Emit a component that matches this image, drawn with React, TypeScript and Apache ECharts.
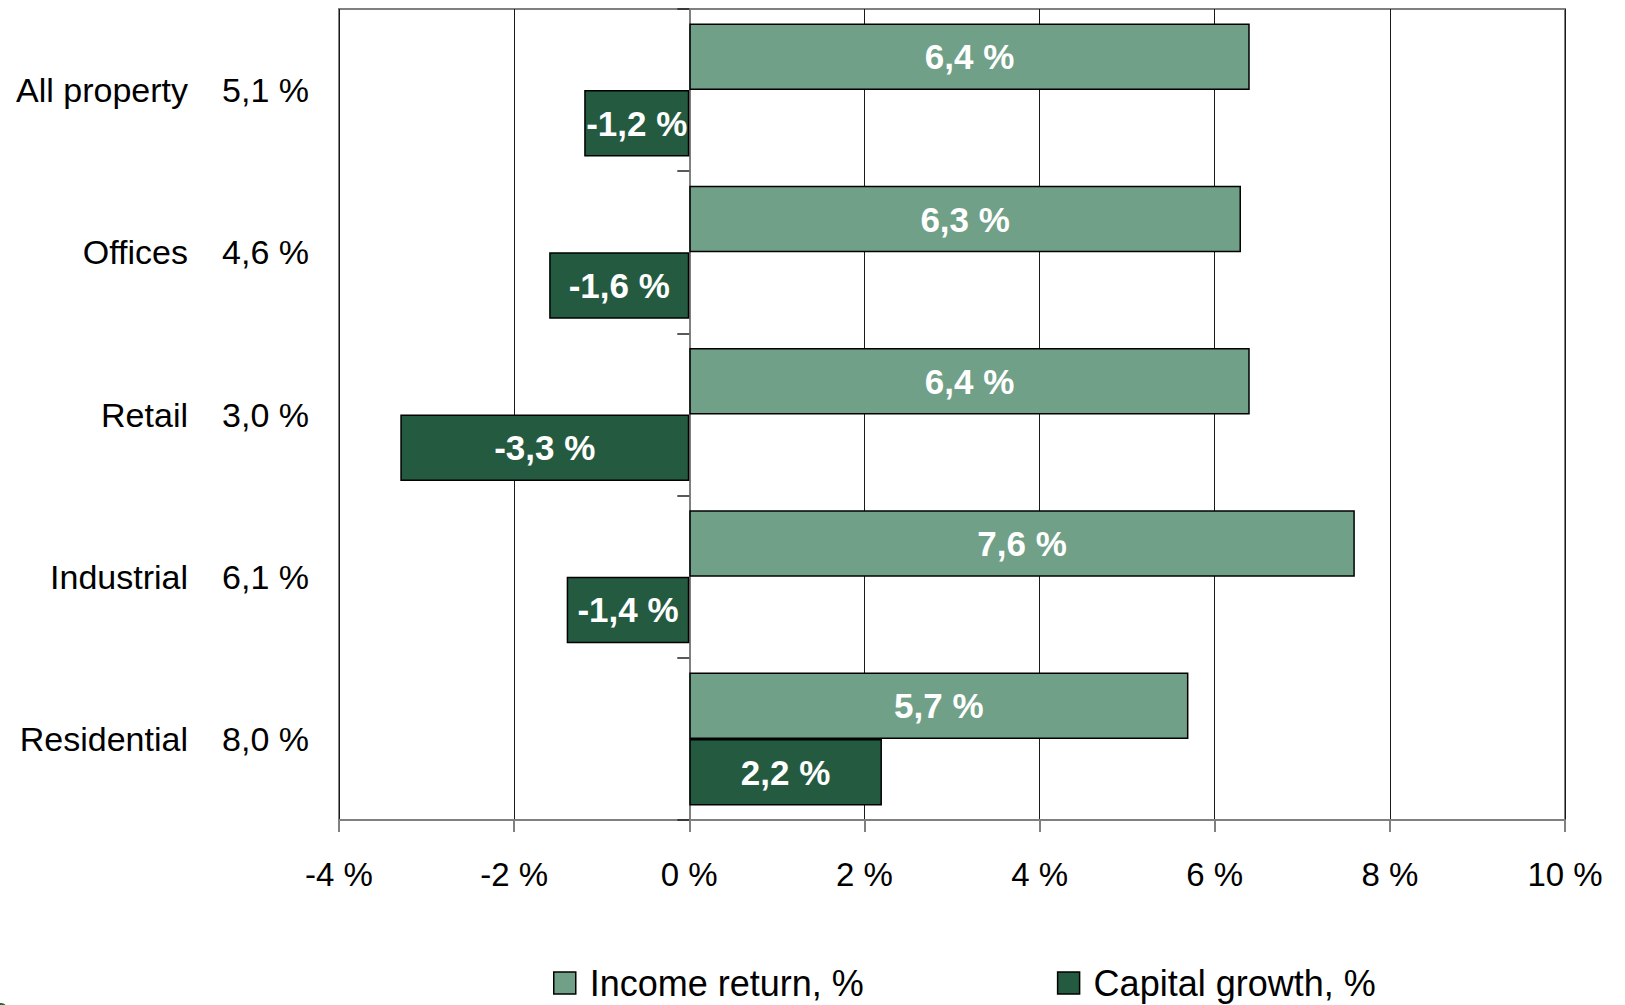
import React, { useEffect, useRef } from "react";
import * as echarts from "echarts";

const categories = ["All property", "Offices", "Retail", "Industrial", "Residential"];
const totalReturn = [5.1, 4.6, 3.0, 6.1, 8.0];
const incomeReturn = [6.4, 6.3, 6.4, 7.6, 5.7];
const capitalGrowth = [-1.2, -1.6, -3.3, -1.4, 2.2];
const seriesNames = ["Income return, %", "Capital growth, %"];
const xTicks = { min: -4, max: 10, interval: 2 };

const FONT = "'Liberation Sans', Arial, sans-serif";
const fmt = (v: number) => v.toFixed(1).replace(".", ",") + " %";

export default function App() {
  const ref = useRef<HTMLDivElement>(null);
  useEffect(() => {
    if (!ref.current) return;
    const chart = echarts.init(ref.current, null, { renderer: "svg" });
    chart.setOption({
      animation: false,
      backgroundColor: "#ffffff",
      textStyle: { fontFamily: FONT },
      grid: {
        left: 339,
        right: 60,
        top: 9,
        bottom: 185,
        show: true,
        borderColor: "#808080",
        borderWidth: 2,
        containLabel: false,
      },
      legend: {
        left: 553,
        top: 965,
        padding: 0,
        icon: "rect",
        itemWidth: 22,
        itemHeight: 22,
        itemGap: 193,
        data: seriesNames,
        textStyle: {
          fontSize: 36,
          lineHeight: 36,
          color: "#000",
          fontFamily: FONT,
          padding: [0, 0, 0, 9],
        },
        itemStyle: { borderColor: "#000", borderWidth: 1.5 },
      },
      xAxis: {
        type: "value",
        min: xTicks.min,
        max: xTicks.max,
        interval: xTicks.interval,
        axisLine: { show: true, onZero: false, lineStyle: { color: "#808080", width: 2 } },
        axisTick: { show: true, length: 12, lineStyle: { color: "#808080", width: 2 } },
        axisLabel: {
          fontSize: 33,
          color: "#000",
          margin: 38,
          fontFamily: FONT,
          formatter: (v: number) => v + " %",
        },
        splitLine: { show: true, lineStyle: { color: "#1a1a1a", width: 1 } },
      },
      yAxis: [
        {
          type: "category",
          data: categories,
          inverse: true,
          position: "left",
          axisLine: { show: false, onZero: false },
          axisTick: { show: false },
          splitLine: { show: false },
          axisLabel: {
            margin: 30,
            color: "#000",
            fontFamily: FONT,
            formatter: (name: string, idx: number) =>
              `{n|${name}}{v|${fmt(totalReturn[idx])}}`,
            rich: {
              n: { fontSize: 34, width: 188, align: "right", color: "#000", fontFamily: FONT },
              v: { fontSize: 34, width: 121, align: "right", color: "#000", fontFamily: FONT },
            },
          },
        },
        {
          type: "category",
          data: categories,
          inverse: true,
          position: "left",
          axisLine: { show: true, onZero: true, lineStyle: { color: "#808080", width: 2 } },
          axisTick: { show: true, length: 12, lineStyle: { color: "#222", width: 1.5 } },
          axisLabel: { show: false },
          splitLine: { show: false },
        },
      ],
      series: [
        {
          name: seriesNames[0],
          type: "bar",
          yAxisIndex: 0,
          data: incomeReturn,
          barGap: "0%",
          barCategoryGap: "18%",
          itemStyle: { color: "#70a087", borderColor: "#000", borderWidth: 1.5 },
          label: {
            show: true,
            position: "inside",
            color: "#fff",
            fontSize: 35,
            fontWeight: "bold",
            fontFamily: FONT,
            formatter: (p: any) => fmt(p.value),
          },
        },
        {
          name: seriesNames[1],
          type: "bar",
          yAxisIndex: 0,
          data: capitalGrowth,
          barGap: "0%",
          barCategoryGap: "18%",
          itemStyle: { color: "#245b40", borderColor: "#000", borderWidth: 1.5 },
          label: {
            show: true,
            position: "inside",
            color: "#fff",
            fontSize: 35,
            fontWeight: "bold",
            fontFamily: FONT,
            formatter: (p: any) => fmt(p.value),
          },
        },
      ],
      graphic: [
        { type: "circle", shape: { cx: 1, cy: 1009, r: 6 }, style: { fill: "#1f6b3a" } },
      ],
    });
    return () => chart.dispose();
  }, []);
  return (
    <div
      ref={ref}
      style={{ position: "fixed", left: 0, top: 0, width: 1625, height: 1005 }}
    />
  );
}
